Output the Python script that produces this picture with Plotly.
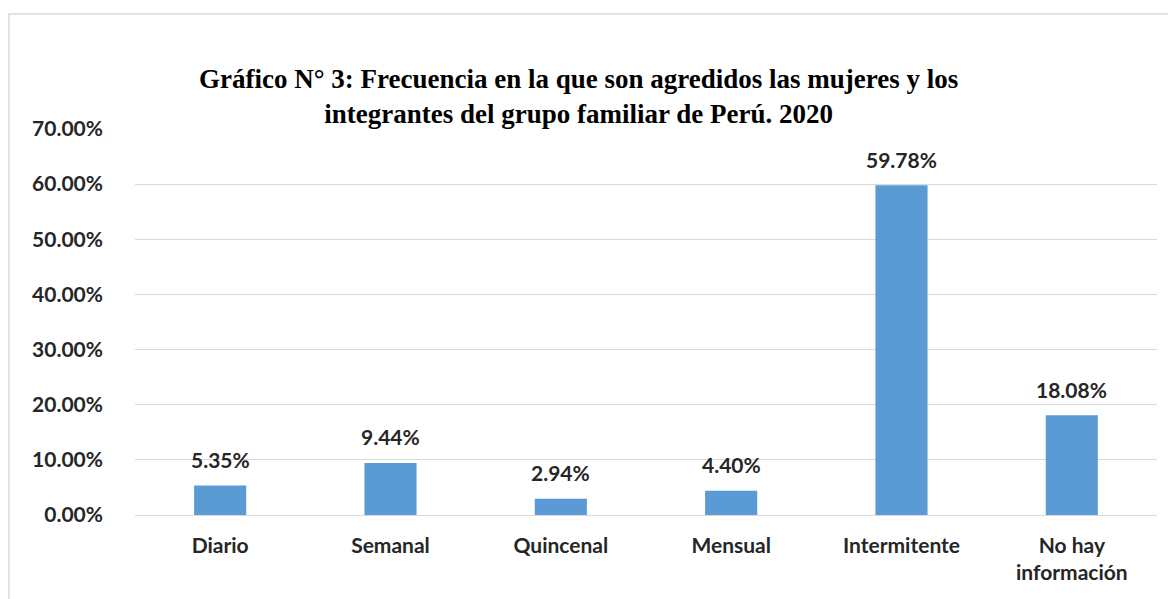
import plotly.graph_objects as go

categories = ["Diario", "Semanal", "Quincenal", "Mensual", "Intermitente", "No hay<br>información"]
values = [0.0535, 0.0944, 0.0294, 0.0440, 0.5978, 0.1808]
labels = ["5.35%", "9.44%", "2.94%", "4.40%", "59.78%", "18.08%"]
y_ticks = [0, 0.1, 0.2, 0.3, 0.4, 0.5, 0.6, 0.7]
y_tick_text = ["0.00%", "10.00%", "20.00%", "30.00%", "40.00%", "50.00%", "60.00%", "70.00%"]
title_text = ("Gráfico N° 3: Frecuencia en la que son agredidos las mujeres y los<br>"
              "integrantes del grupo familiar de Perú. 2020")

SANS = dict(family="Lato", size=21, color="#262626", weight="bold")
SERIF = dict(family="Liberation Serif", size=27, color="black", weight="bold")

fig = go.Figure()
fig.add_trace(go.Bar(
    x=categories, y=values,
    marker=dict(color="#5B9BD5", line=dict(width=0)),
    width=0.306,
    hoverinfo="skip",
))

for c, v, t in zip(categories, values, labels):
    fig.add_annotation(
        x=c, y=v, text=t, showarrow=False, yshift=26, yanchor="middle",
        font=SANS,
    )

# title (two centred lines)
fig.add_annotation(xref="paper", yref="paper", x=0.4335, y=1.084,
                   xanchor="center", yanchor="middle", showarrow=False,
                   align="center", text=title_text, font=SERIF)

fig.add_shape(
    type="rect", xref="paper", yref="paper",
    x0=-0.1233, x1=1.04, y0=-0.3, y1=1.298,
    line=dict(color="#D9D9D9", width=1.5), fillcolor="rgba(0,0,0,0)",
    layer="below",
)

fig.update_layout(
    width=1176, height=599,
    margin=dict(l=127, r=27, t=121, b=92),
    paper_bgcolor="white", plot_bgcolor="white",
    showlegend=False,
    xaxis=dict(
        showgrid=False, showline=False, zeroline=False,
        ticks="", ticklabelstandoff=16,
        tickfont=SANS,
    ),
    yaxis=dict(
        range=[0, 0.7], tickvals=y_ticks, ticktext=y_tick_text,
        showgrid=True, gridcolor="#D9D9D9", gridwidth=1,
        zeroline=True, zerolinecolor="#D9D9D9", zerolinewidth=1,
        showline=False, ticks="", ticklabelstandoff=31,
        tickfont=SANS,
    ),
)

fig.write_html("out.html")
